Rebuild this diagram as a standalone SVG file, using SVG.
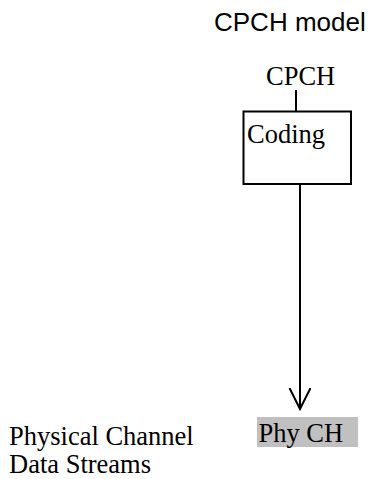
<svg xmlns="http://www.w3.org/2000/svg" width="370" height="479" viewBox="0 0 370 479">
<style>
.t{font-family:"Liberation Serif","Times New Roman",serif;font-size:26.5px;fill:#000}
.title{font-family:"Liberation Sans",Arial,sans-serif;font-size:26px;fill:#000}
.ln{stroke:#000;stroke-width:2;fill:none}
</style>
<defs>
<marker id="arr" markerUnits="userSpaceOnUse" markerWidth="24" markerHeight="24" refX="21" refY="11" orient="auto" viewBox="0 0 24 24">
<path d="M0,0.5 L21,11 L0,21.5" fill="none" stroke="#000" stroke-width="2"/>
</marker>
</defs>
<rect width="370" height="479" fill="#fff"/>
<text class="title" x="214" y="31">CPCH model</text>
<g id="cpch">
<text class="t" x="266" y="85">CPCH</text>
</g>
<g id="coding">
<rect x="243.5" y="111.5" width="107.5" height="72.5" class="ln"/>
<text class="t" x="247" y="143">Coding</text>
</g>
<g id="phych">
<rect x="257" y="417" width="101" height="30" fill="#c0c0c0"/>
<text class="t" x="258.5" y="442">Phy CH</text>
</g>
<g id="label">
<text class="t" x="9" y="445">Physical Channel</text>
<text class="t" x="9" y="473">Data Streams</text>
</g>
<g id="connectors">
<line x1="296" y1="90" x2="296" y2="111" class="ln"/>
<line x1="300" y1="184" x2="300" y2="409" class="ln" marker-end="url(#arr)"/>
</g>
</svg>
